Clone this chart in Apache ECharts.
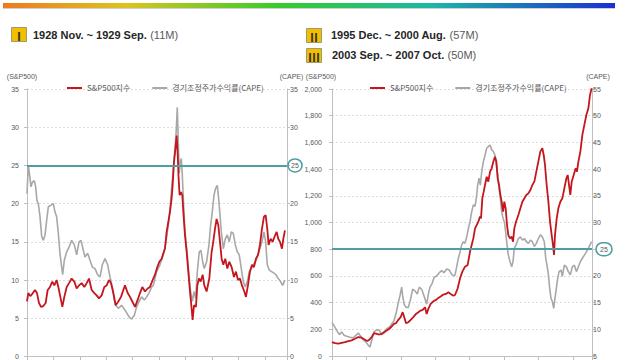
<!DOCTYPE html>
<html><head><meta charset="utf-8">
<script src="https://cdn.jsdelivr.net/npm/echarts@6/dist/echarts.min.js"></script>
<style>html,body{margin:0;padding:0;background:#fff}#c{width:640px;height:360px}</style>
</head><body><div id="c"></div>
<script>
const legendNames = ['S&P500지수', '경기조정주가수익률(CAPE)'];
const headings = [
  {num: 'Ⅰ', period: '1928 Nov. ~ 1929 Sep.', months: '(11M)'},
  {num: 'Ⅱ', period: '1995 Dec. ~ 2000 Aug.', months: '(57M)'},
  {num: 'Ⅲ', period: '2003 Sep. ~ 2007 Oct.', months: '(50M)'}
];
const axisNames = ['(S&P500)', '(CAPE)'];
const thresholdCAPE = 25;
const thresholdSPRight = 800;

// Left chart (early 1900s - late 1940s): [year, value]
const leftCAPE = [[1900.00,21.3],[1900.25,25.0],[1900.50,23.7],[1900.76,22.2],[1901.01,22.8],[1901.39,23.0],[1901.64,22.2],[1901.89,20.4],[1902.14,20.0],[1902.46,18.3],[1902.78,15.7],[1903.09,15.2],[1903.41,15.9],[1903.72,17.8],[1904.04,19.6],[1904.54,19.8],[1904.98,20.0],[1905.30,18.9],[1905.61,18.3],[1905.93,16.1],[1906.24,13.5],[1906.56,11.7],[1906.75,10.7],[1907.06,12.6],[1907.51,13.7],[1907.95,14.3],[1908.45,15.2],[1908.96,14.6],[1909.40,13.3],[1909.84,15.0],[1910.22,15.2],[1910.66,13.9],[1910.97,13.0],[1911.48,13.5],[1911.92,12.6],[1912.36,11.7],[1912.87,11.5],[1913.37,10.7],[1913.81,10.4],[1914.25,12.0],[1914.76,12.8],[1915.26,12.0],[1915.71,10.4],[1916.15,9.1],[1916.52,7.4],[1916.78,6.7],[1917.28,6.3],[1917.91,6.7],[1918.42,6.2],[1918.86,5.7],[1919.30,5.2],[1919.80,4.9],[1920.31,5.4],[1920.75,6.5],[1921.19,7.2],[1921.70,7.8],[1922.20,7.4],[1922.64,7.8],[1923.08,8.3],[1923.59,9.1],[1923.90,9.3],[1924.53,11.1],[1925.16,12.0],[1925.79,13.3],[1926.30,15.0],[1926.74,17.2],[1927.05,19.3],[1927.37,22.0],[1927.69,24.6],[1927.94,26.7],[1928.19,28.9],[1928.44,32.6],[1928.63,28.0],[1928.82,24.0],[1929.01,25.4],[1929.20,25.9],[1929.39,23.7],[1929.58,20.7],[1929.83,17.2],[1930.08,15.0],[1930.33,13.3],[1930.65,10.7],[1930.96,8.5],[1931.28,7.2],[1931.60,8.5],[1931.91,7.6],[1932.23,11.1],[1932.60,13.7],[1932.92,13.9],[1933.24,12.4],[1933.55,11.5],[1933.99,12.4],[1934.43,14.6],[1934.75,17.2],[1935.06,18.9],[1935.38,21.1],[1935.70,22.0],[1936.01,22.4],[1936.26,20.7],[1936.52,18.5],[1936.77,16.3],[1937.15,14.1],[1937.52,15.4],[1937.90,15.9],[1938.28,15.0],[1938.66,16.3],[1939.04,16.1],[1939.42,14.6],[1939.79,13.7],[1940.17,13.3],[1940.55,11.5],[1940.93,9.8],[1941.31,9.1],[1941.69,9.8],[1942.07,11.1],[1942.44,11.5],[1942.82,12.0],[1943.20,12.4],[1943.58,13.0],[1944.08,14.1],[1944.46,15.0],[1944.84,16.3],[1945.16,15.0],[1945.47,12.0],[1945.85,11.3],[1946.29,11.1],[1946.73,10.9],[1947.11,10.7],[1947.55,10.2],[1947.99,9.8],[1948.37,9.3],[1948.81,10.0]];
const leftSP = [[1900.00,7.2],[1900.25,8.3],[1900.63,7.9],[1901.01,8.2],[1901.51,8.7],[1901.89,8.3],[1902.27,7.0],[1902.65,6.5],[1903.09,6.6],[1903.53,7.0],[1903.91,8.7],[1904.35,9.1],[1904.79,9.8],[1905.17,9.3],[1905.61,10.0],[1905.93,9.1],[1906.31,7.8],[1906.69,6.5],[1907.06,7.8],[1907.51,9.1],[1907.95,9.6],[1908.45,10.2],[1908.96,9.8],[1909.40,8.9],[1909.84,9.3],[1910.34,9.6],[1910.85,9.1],[1911.29,9.6],[1911.73,10.2],[1912.24,8.7],[1912.74,8.3],[1913.18,8.0],[1913.62,7.6],[1914.13,8.0],[1914.63,9.1],[1915.07,9.3],[1915.52,10.0],[1915.89,9.6],[1916.34,8.3],[1916.78,6.7],[1917.28,7.2],[1917.79,7.8],[1918.23,8.7],[1918.54,9.3],[1919.05,8.3],[1919.49,7.8],[1919.93,7.2],[1920.44,6.5],[1920.94,7.4],[1921.38,8.3],[1921.82,9.1],[1922.33,8.5],[1922.83,8.9],[1923.27,9.1],[1923.90,10.2],[1924.22,10.7],[1924.66,11.7],[1925.04,12.4],[1925.48,12.8],[1925.79,13.5],[1926.11,14.1],[1926.42,16.3],[1926.74,17.6],[1927.05,18.9],[1927.37,20.7],[1927.56,22.4],[1927.81,25.4],[1928.06,27.0],[1928.32,28.9],[1928.50,26.7],[1928.69,23.3],[1928.88,21.1],[1929.14,21.5],[1929.39,21.1],[1929.58,18.9],[1929.89,15.9],[1930.21,13.7],[1930.52,11.1],[1930.84,8.5],[1931.15,6.3],[1931.34,4.8],[1931.60,6.7],[1931.97,6.5],[1932.23,9.3],[1932.54,10.2],[1932.86,9.8],[1933.24,10.7],[1933.55,9.3],[1933.99,8.5],[1934.50,10.2],[1934.94,13.7],[1935.25,15.0],[1935.57,16.7],[1935.88,18.0],[1936.20,17.2],[1936.52,15.0],[1936.83,12.8],[1937.15,12.0],[1937.52,12.8],[1937.90,11.5],[1938.28,12.4],[1938.72,11.7],[1939.16,10.4],[1939.54,11.1],[1939.92,10.0],[1940.30,10.2],[1940.68,9.3],[1941.12,8.5],[1941.43,7.8],[1941.81,9.3],[1942.19,11.1],[1942.57,12.0],[1942.95,11.7],[1943.33,12.8],[1943.71,13.3],[1944.08,14.6],[1944.46,16.7],[1944.84,18.3],[1945.16,18.5],[1945.47,16.7],[1945.72,14.6],[1946.10,15.4],[1946.48,15.0],[1946.86,15.7],[1947.24,16.3],[1947.55,15.4],[1947.87,15.0],[1948.25,14.1],[1948.50,15.4],[1948.81,16.5]];

// Right chart (1977 - 2014): [year, value]
const rightCAPE = [[1977.00,11.3],[1977.29,10.7],[1977.68,9.8],[1978.07,9.0],[1978.41,9.5],[1978.74,8.9],[1979.13,8.7],[1979.62,8.5],[1980.10,8.4],[1980.49,8.9],[1980.83,9.3],[1981.17,8.7],[1981.55,8.0],[1981.94,7.6],[1982.28,7.0],[1982.52,6.7],[1982.77,7.9],[1983.10,9.5],[1983.49,9.9],[1983.88,9.8],[1984.22,9.0],[1984.56,9.3],[1984.95,10.1],[1985.33,10.4],[1985.67,11.0],[1986.01,11.6],[1986.30,12.9],[1986.59,14.7],[1986.88,16.3],[1987.13,17.9],[1987.27,16.3],[1987.47,14.7],[1987.76,14.1],[1988.10,14.1],[1988.43,15.7],[1988.72,17.5],[1989.06,17.2],[1989.40,16.6],[1989.69,17.9],[1990.03,17.5],[1990.37,16.3],[1990.76,14.7],[1991.00,16.6],[1991.24,17.9],[1991.53,18.5],[1991.83,19.7],[1992.21,20.0],[1992.60,20.6],[1992.94,21.0],[1993.28,20.6],[1993.67,21.3],[1994.05,21.1],[1994.39,20.3],[1994.73,20.0],[1994.88,20.2],[1995.12,21.7],[1995.36,23.3],[1995.61,24.5],[1995.85,25.8],[1996.09,26.4],[1996.33,26.1],[1996.58,27.3],[1996.82,28.9],[1997.06,30.1],[1997.30,32.0],[1997.54,33.3],[1997.79,33.0],[1998.03,35.1],[1998.17,37.0],[1998.37,38.3],[1998.56,37.0],[1998.76,39.5],[1999.00,41.4],[1999.24,42.6],[1999.48,43.9],[1999.72,44.2],[1999.97,44.5],[2000.21,43.6],[2000.45,43.3],[2000.69,42.6],[2000.89,40.8],[2001.08,38.9],[2001.28,36.4],[2001.47,34.5],[2001.66,32.0],[2001.86,30.8],[2002.05,30.1],[2002.24,28.3],[2002.44,25.8],[2002.63,23.9],[2002.87,22.7],[2003.12,21.7],[2003.31,22.7],[2003.50,25.2],[2003.75,25.8],[2004.09,27.0],[2004.38,27.3],[2004.67,26.7],[2004.96,27.0],[2005.25,26.4],[2005.54,26.1],[2005.83,26.7],[2006.12,26.4],[2006.41,25.5],[2006.70,26.1],[2006.99,27.0],[2007.28,27.7],[2007.57,27.3],[2007.86,26.4],[2008.06,23.3],[2008.25,22.0],[2008.45,20.2],[2008.64,17.7],[2008.83,15.8],[2009.03,15.2],[2009.22,13.9],[2009.41,15.8],[2009.61,17.7],[2009.80,19.5],[2010.00,20.8],[2010.29,21.1],[2010.48,19.9],[2010.77,22.0],[2011.06,21.7],[2011.35,20.8],[2011.64,20.2],[2011.93,21.7],[2012.23,22.0],[2012.52,20.8],[2012.81,21.7],[2013.10,22.7],[2013.39,23.3],[2013.68,23.9],[2013.97,24.5],[2014.26,25.2],[2014.50,25.8],[2014.74,26.4]];
const rightSP = [[1977.00,104],[1977.44,97],[1977.92,92],[1978.41,99],[1978.89,104],[1979.37,112],[1979.86,117],[1980.34,129],[1980.83,142],[1981.31,137],[1981.79,122],[1982.13,112],[1982.43,122],[1982.77,142],[1983.10,171],[1983.49,166],[1983.88,161],[1984.22,166],[1984.56,179],[1984.95,191],[1985.33,204],[1985.67,221],[1986.01,241],[1986.30,246],[1986.64,271],[1986.98,291],[1987.27,328],[1987.47,296],[1987.76,246],[1988.10,253],[1988.43,271],[1988.82,291],[1989.21,315],[1989.55,328],[1989.89,340],[1990.18,345],[1990.52,365],[1990.76,315],[1991.00,353],[1991.34,390],[1991.73,410],[1992.12,420],[1992.46,435],[1992.79,445],[1993.18,460],[1993.57,465],[1993.91,477],[1994.25,465],[1994.64,452],[1994.88,457],[1995.27,507],[1995.61,582],[1995.95,632],[1996.33,669],[1996.72,682],[1997.06,782],[1997.30,832],[1997.54,881],[1997.79,956],[1998.03,981],[1998.27,1006],[1998.51,1044],[1998.66,1031],[1998.85,1181],[1999.05,1231],[1999.24,1281],[1999.48,1343],[1999.72,1306],[1999.97,1381],[2000.21,1406],[2000.45,1456],[2000.69,1493],[2000.89,1456],[2001.08,1331],[2001.28,1281],[2001.47,1206],[2001.66,1156],[2001.86,1081],[2002.05,1156],[2002.24,1106],[2002.44,981],[2002.63,906],[2002.87,881],[2003.12,894],[2003.31,856],[2003.50,956],[2003.75,1006],[2004.09,1056],[2004.38,1106],[2004.67,1156],[2004.96,1181],[2005.25,1206],[2005.54,1218],[2005.83,1243],[2006.12,1281],[2006.41,1306],[2006.70,1381],[2006.99,1456],[2007.28,1531],[2007.57,1556],[2007.77,1506],[2007.96,1431],[2008.20,1281],[2008.45,1156],[2008.69,1006],[2008.93,906],[2009.12,832],[2009.27,757],[2009.41,906],[2009.66,1031],[2009.90,1106],[2010.19,1156],[2010.48,1181],[2010.77,1256],[2011.06,1331],[2011.26,1356],[2011.45,1281],[2011.64,1206],[2011.84,1306],[2012.13,1356],[2012.42,1406],[2012.61,1381],[2012.81,1456],[2013.10,1531],[2013.39,1656],[2013.68,1731],[2013.97,1805],[2014.26,1855],[2014.50,1955],[2014.74,2005]];

const RED = '#c4161c', GRAY = '#a8a8a8', TEAL = '#4e9fa1', AX = '#bfbfbf', TXT = '#595959';
const FONT = 'Liberation Sans, Arial, sans-serif';
const chart = echarts.init(document.getElementById('c'), null, {renderer: 'svg'});

function xAx(gi, min, max) {
  return {type: 'value', gridIndex: gi, min: min, max: max, interval: 5,
    axisLabel: {show: false}, splitLine: {show: false},
    axisLine: {onZero: false, lineStyle: {color: AX}},
    axisTick: {show: true, length: 4, lineStyle: {color: AX}}};
}
function yAx(gi, min, max, interval, pos, extra) {
  return Object.assign({type: 'value', gridIndex: gi, position: pos, min: min, max: max, interval: interval,
    axisLine: {show: true, lineStyle: {color: AX}},
    axisTick: {show: true, length: 3, lineStyle: {color: AX}},
    splitLine: {show: pos === 'left', lineStyle: {color: '#dcdcdc', type: [2, 2]}},
    nameLocation: 'end', nameGap: 13,
    axisLabel: {fontSize: 7, color: TXT, fontFamily: FONT}}, extra);
}
const nameStyle = (pad) => ({fontSize: 7, color: TXT, fontFamily: FONT, align: 'center', verticalAlign: 'middle', padding: pad});
const circleRich = (w) => ({width: w, height: 13, align: 'center', verticalAlign: 'middle', borderColor: TEAL, borderWidth: 1.6, borderRadius: 7, fontSize: 7, color: TXT, fontFamily: FONT});

const markLine = (val) => ({silent: true, symbol: ['none', 'none'], animation: false,
  label: {show: false}, emphasis: {disabled: true},
  lineStyle: {color: TEAL, width: 2.2, type: 'solid', opacity: 1},
  data: [{yAxis: val}]});

const legend = (left) => ({left: left, top: 84, padding: 0, itemGap: 22, itemWidth: 15, itemHeight: 2, icon: 'rect',
  textStyle: {fontSize: 8, color: TXT, fontFamily: 'Noto Sans CJK KR, sans-serif'}, data: legendNames, selectedMode: false});

const graphics = [
  {type: 'rect', shape: {x: 3, y: 3, width: 612, height: 5},
   style: {fill: new echarts.graphic.LinearGradient(0, 0, 1, 0, [
     {offset: 0, color: '#ee7a20'}, {offset: 0.2, color: '#dcc41e'}, {offset: 0.45, color: '#35cc2a'},
     {offset: 0.7, color: '#1cb7a6'}, {offset: 1, color: '#1a2fd2'}])}},
  {type: 'rect', shape: {x: 3, y: 8, width: 612, height: 1}, style: {fill: '#cfcfcf'}}
];
const headPos = [{bx: 11, by: 27, tx: 33, ty: 34.5}, {bx: 306, by: 28, tx: 331, ty: 35}, {bx: 306, by: 48, tx: 332, ty: 55}];
headings.forEach((h, i) => {
  const p = headPos[i];
  graphics.push({type: 'rect', shape: {x: p.bx + 0.5, y: p.by + 0.5, width: 15, height: 14},
    style: {fill: '#f1bf00', stroke: '#a09a70', lineWidth: 1}});
  graphics.push({type: 'text', x: p.bx + 8, y: p.by + 8,
    style: {text: h.num, fontSize: 12, fontWeight: 'bold', fontFamily: 'Noto Sans CJK KR, serif', fill: '#3a3318', align: 'center', verticalAlign: 'middle'}});
  graphics.push({type: 'text', x: p.tx, y: p.ty,
    style: {text: '{b|' + h.period + '} {n|' + h.months + '}', verticalAlign: 'middle',
      rich: {b: {fontSize: 11, fontWeight: 'bold', fontFamily: FONT, fill: '#262626'},
             n: {fontSize: 11, fontFamily: FONT, fill: '#595959'}}}});
});

const option = {
  backgroundColor: '#fff',
  animation: false,
  graphic: graphics,
  legend: [legend(67), legend(370)],
  grid: [{left: 27, top: 89, width: 260, height: 268}, {left: 332, top: 89, width: 260, height: 267}],
  xAxis: [xAx(0, 1900, 1949.2), xAx(1, 1977, 2014.79)],
  yAxis: [
    yAx(0, 0, 35, 5, 'left', {name: axisNames[0], nameTextStyle: nameStyle([0, 10, 0, 0]), axisLabel: {fontSize: 7, color: TXT, fontFamily: FONT, margin: 8}}),
    yAx(0, 0, 35, 5, 'right', {name: axisNames[1], nameTextStyle: nameStyle([0, 0, 0, 9]),
      axisLabel: {margin: 1, fontSize: 7, color: TXT, fontFamily: FONT,
        formatter: v => v === thresholdCAPE ? '{c|' + v + '}' : '{n|' + v + '}',
        rich: {n: {padding: [0, 0, 0, 2], fontSize: 7, color: TXT, fontFamily: FONT}, c: circleRich(14)}}}),
    yAx(1, 0, 2000, 200, 'left', {name: axisNames[0], nameTextStyle: nameStyle([0, 22, 0, 0]),
      axisLabel: {fontSize: 7, color: TXT, fontFamily: FONT, margin: 10, formatter: v => v.toLocaleString('en-US')}}),
    yAx(1, 5, 55, 5, 'right', {name: axisNames[1], nameTextStyle: nameStyle([0, 0, 0, 12]),
      axisLabel: {margin: 1, fontSize: 7, color: TXT, fontFamily: FONT,
        formatter: v => v === thresholdCAPE ? '{s| }{c|' + v + '}' : '{n|' + v + '}',
        rich: {n: {fontSize: 7, color: TXT, fontFamily: FONT}, s: {width: 3}, c: circleRich(16)}}})
  ],
  series: [
    {name: legendNames[1], type: 'line', xAxisIndex: 0, yAxisIndex: 1, data: leftCAPE, showSymbol: false, color: GRAY, lineStyle: {width: 1.6}, z: 2},
    {name: legendNames[0], type: 'line', xAxisIndex: 0, yAxisIndex: 0, data: leftSP, showSymbol: false, color: RED, lineStyle: {width: 1.8}, z: 3, markLine: markLine(thresholdCAPE)},
    {name: legendNames[1], type: 'line', xAxisIndex: 1, yAxisIndex: 3, data: rightCAPE, showSymbol: false, color: GRAY, lineStyle: {width: 1.6}, z: 2},
    {name: legendNames[0], type: 'line', xAxisIndex: 1, yAxisIndex: 2, data: rightSP, showSymbol: false, color: RED, lineStyle: {width: 1.8}, z: 3, markLine: markLine(thresholdSPRight)}
  ]
};
chart.setOption(option);
</script></body></html>
